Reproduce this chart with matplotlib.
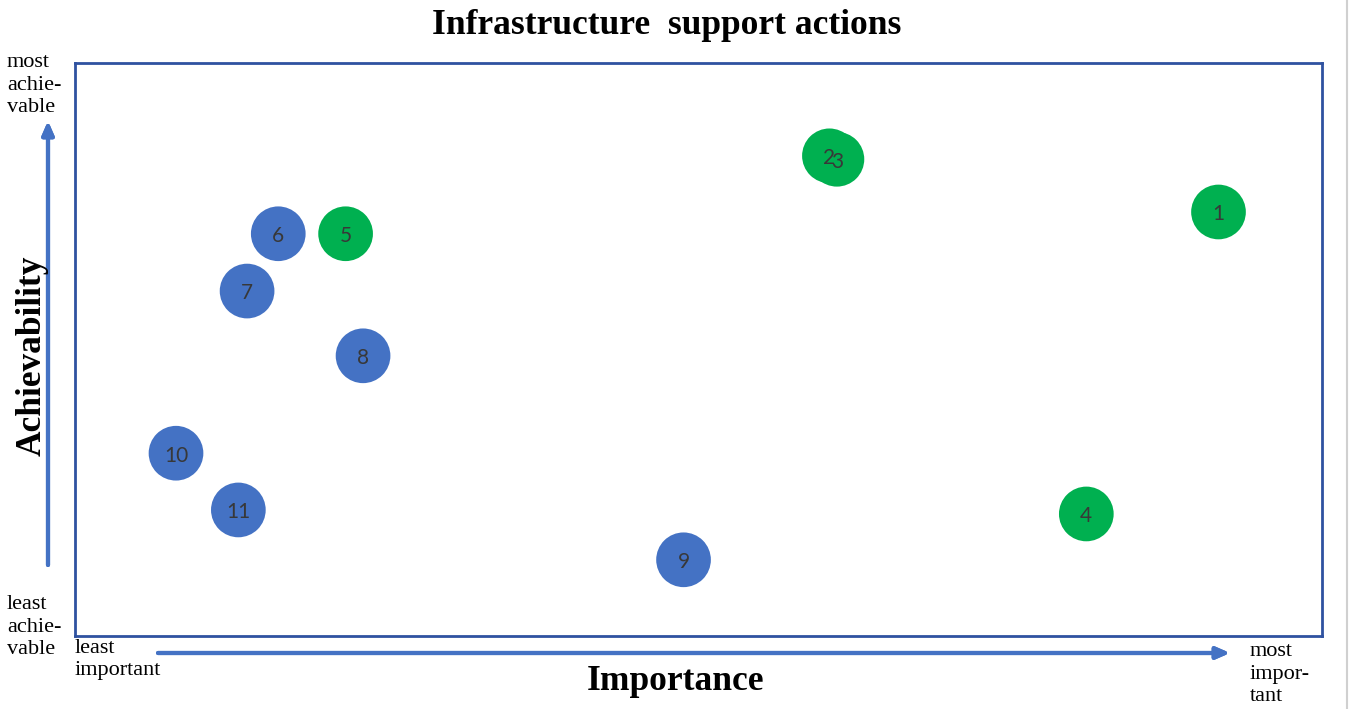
import matplotlib.pyplot as plt
from matplotlib.lines import Line2D

# importance (x) and achievability (y), 0-100 scale inside the box
labels = ["1", "2", "3", "4", "5", "6", "7", "8", "9", "10", "11"]
importance = [91.7, 60.5, 61.1, 81.1, 21.7, 16.3, 13.8, 23.1, 48.8, 8.1, 13.1]
achievability = [74.0, 83.8, 83.2, 21.3, 70.2, 70.2, 60.2, 48.9, 13.3, 31.9, 22.0]
groups = ["g", "g", "g", "g", "g", "b", "b", "b", "b", "b", "b"]

GREEN = "#00B050"
BLUE = "#4472C4"
colors = [GREEN if g == "g" else BLUE for g in groups]

W, H = 1350, 709
fig = plt.figure(figsize=(W / 100, H / 100), dpi=100)
fig.patch.set_facecolor("white")

ax = fig.add_axes([75 / W, 1 - 636 / H, 1247 / W, 573 / H])
ax.set_xlim(0, 100)
ax.set_ylim(0, 100)
ax.set_xticks([])
ax.set_yticks([])
for sp in ax.spines.values():
    sp.set_color("#2F52A0")
    sp.set_linewidth(2)

ax.scatter(importance, achievability, s=1550, c=colors, edgecolors="none", zorder=2)
for lab, x, y in zip(labels, importance, achievability):
    ax.text(x, y - 0.4, lab, ha="center", va="center", fontsize=15,
            family="Lato", color="#383838", zorder=3)

serif = "Liberation Serif"


def fx(px):
    return px / W


def fy(py):
    return 1 - py / H


fig.text(fx(667), fy(26), "Infrastructure  support actions", ha="center", va="center",
         family=serif, fontweight="bold", fontsize=25.5)
fig.text(fx(676), fy(681), "Importance", ha="center", va="center",
         family=serif, fontweight="bold", fontsize=25.5)
fig.text(fx(32), fy(356), "Achievability", ha="center", va="center", rotation=90,
         family=serif, fontweight="bold", fontsize=25.5)

# arrows
arrow_col = "#4472C4"
fig.add_artist(plt.annotate("", xy=(fx(48), fy(121)), xytext=(fx(48), fy(565)),
                            xycoords="figure fraction", textcoords="figure fraction",
                            arrowprops=dict(arrowstyle="-|>,head_length=0.8,head_width=0.35",
                                            color=arrow_col, lw=3, shrinkA=0, shrinkB=0)))
fig.add_artist(plt.annotate("", xy=(fx(1230), fy(653)), xytext=(fx(158), fy(653)),
                            xycoords="figure fraction", textcoords="figure fraction",
                            arrowprops=dict(arrowstyle="-|>,head_length=0.8,head_width=0.35",
                                            color=arrow_col, lw=3, shrinkA=0, shrinkB=0)))

corner = dict(family=serif, fontsize=16, color="black", linespacing=1.25, va="top", ha="left")
fig.text(fx(7), fy(53), "most\nachie-\nvable", **corner)
fig.text(fx(7), fy(595), "least\nachie-\nvable", **corner)
fig.text(fx(75), fy(639), "least\nimportant", **corner)
fig.text(fx(1250), fy(642), "most\nimpor-\ntant", **corner)

# thin grey page edge on the right
fig.add_artist(Line2D([fx(1347), fx(1347)], [0, 1], transform=fig.transFigure,
                      color="#d0d0d0", lw=1.5))

fig.savefig("out.png", dpi=100)
